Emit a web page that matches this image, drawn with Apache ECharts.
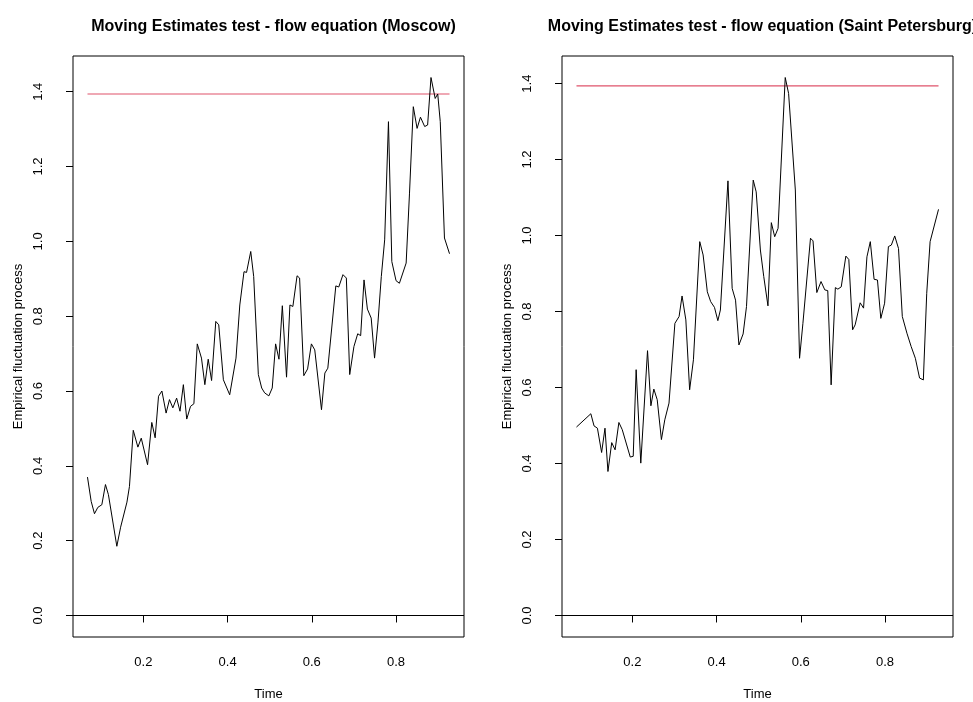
<!DOCTYPE html>
<html>
<head>
<meta charset="utf-8">
<title>Moving Estimates test - flow equation</title>
<script src="https://cdn.jsdelivr.net/npm/echarts@6/dist/echarts.min.js"></script>
<style>
  html, body { margin: 0; padding: 0; background: #ffffff; }
  #chart { width: 973px; height: 702px; }
</style>
</head>
<body>
<div id="chart"></div>
<script>
// Moscow: empirical fluctuation process of the moving estimates
const moscowTime = [
  0.0673, 0.0761, 0.0839, 0.0919, 0.1014, 0.110, 0.117, 0.137, 0.146, 0.161,
  0.167, 0.176, 0.187, 0.195, 0.210, 0.220, 0.228, 0.236, 0.244, 0.254,
  0.262, 0.270, 0.279, 0.287, 0.295, 0.303, 0.312, 0.320, 0.328, 0.338,
  0.346, 0.354, 0.362, 0.372, 0.379, 0.390, 0.405, 0.420, 0.429, 0.439,
  0.445, 0.455, 0.462, 0.473, 0.481, 0.488, 0.498, 0.506, 0.514, 0.522,
  0.530, 0.540, 0.548, 0.555, 0.565, 0.571, 0.581, 0.590, 0.599, 0.607,
  0.623, 0.631, 0.638, 0.657, 0.664, 0.674, 0.682, 0.690, 0.700, 0.709,
  0.716, 0.724, 0.732, 0.741, 0.749, 0.757, 0.765, 0.773, 0.782, 0.790,
  0.800, 0.808, 0.824, 0.832, 0.841, 0.850, 0.858, 0.868, 0.875, 0.883,
  0.893, 0.899, 0.905, 0.915, 0.927
];
const moscowValues = [
  0.370, 0.305, 0.272, 0.289, 0.296, 0.350, 0.323, 0.185, 0.236, 0.303,
  0.345, 0.495, 0.450, 0.474, 0.403, 0.516, 0.475, 0.586, 0.600, 0.541,
  0.577, 0.555, 0.581, 0.546, 0.617, 0.525, 0.559, 0.566, 0.726, 0.688,
  0.617, 0.685, 0.628, 0.786, 0.777, 0.630, 0.590, 0.688, 0.830, 0.919,
  0.917, 0.973, 0.906, 0.644, 0.608, 0.595, 0.587, 0.608, 0.726, 0.685,
  0.828, 0.637, 0.830, 0.826, 0.908, 0.902, 0.641, 0.659, 0.726, 0.710,
  0.550, 0.648, 0.661, 0.881, 0.878, 0.911, 0.902, 0.644, 0.719, 0.753,
  0.748, 0.897, 0.819, 0.795, 0.688, 0.782, 0.906, 1.004, 1.320, 0.946,
  0.895, 0.888, 0.942, 1.129, 1.360, 1.302, 1.332, 1.307, 1.311, 1.438,
  1.382, 1.394, 1.320, 1.009, 0.967
];

// Saint Petersburg: empirical fluctuation process of the moving estimates
const spbTime = [
  0.0673, 0.1014, 0.109, 0.117, 0.127, 0.135, 0.142, 0.151, 0.159, 0.168,
  0.176, 0.195, 0.202, 0.209, 0.220, 0.236, 0.244, 0.251, 0.259, 0.269,
  0.277, 0.287, 0.301, 0.311, 0.318, 0.327, 0.336, 0.345, 0.360, 0.368,
  0.378, 0.386, 0.395, 0.403, 0.409, 0.427, 0.437, 0.445, 0.453, 0.463,
  0.471, 0.487, 0.494, 0.504, 0.512, 0.522, 0.530, 0.538, 0.546, 0.563,
  0.571, 0.587, 0.597, 0.605, 0.623, 0.629, 0.638, 0.648, 0.657, 0.664,
  0.672, 0.682, 0.688, 0.696, 0.707, 0.714, 0.723, 0.729, 0.741, 0.749,
  0.757, 0.765, 0.774, 0.782, 0.790, 0.799, 0.808, 0.815, 0.823, 0.832,
  0.841, 0.852, 0.862, 0.872, 0.882, 0.891, 0.899, 0.907, 0.927
];
const spbValues = [
  0.496, 0.531, 0.499, 0.493, 0.429, 0.493, 0.379, 0.455, 0.436, 0.508,
  0.489, 0.417, 0.419, 0.647, 0.401, 0.697, 0.552, 0.596, 0.568, 0.463,
  0.515, 0.559, 0.769, 0.787, 0.841, 0.778, 0.594, 0.673, 0.984, 0.949,
  0.852, 0.826, 0.811, 0.776, 0.804, 1.144, 0.861, 0.830, 0.712, 0.741,
  0.813, 1.146, 1.115, 0.962, 0.892, 0.815, 1.034, 0.997, 1.019, 1.416,
  1.374, 1.120, 0.677, 0.769, 0.993, 0.986, 0.850, 0.879, 0.857, 0.855,
  0.607, 0.863, 0.859, 0.865, 0.946, 0.937, 0.752, 0.765, 0.823, 0.809,
  0.944, 0.984, 0.885, 0.883, 0.782, 0.822, 0.971, 0.975, 0.999, 0.966,
  0.787, 0.743, 0.708, 0.677, 0.625, 0.620, 0.848, 0.984, 1.069
];

// 5% critical boundary of the sup-norm functional
const boundary = [1.394, 1.394];

const titles = [
  'Moving Estimates test - flow equation (Moscow)',
  'Moving Estimates test - flow equation (Saint Petersburg)'
];
const yTicks = [0.0, 0.2, 0.4, 0.6, 0.8, 1.0, 1.2, 1.4];
const xTicks = [0.2, 0.4, 0.6, 0.8];
const xTitle = 'Time';
const yTitle = 'Empirical fluctuation process';

const FONT = '"Liberation Sans", Arial, Helvetica, sans-serif';
const BOUNDARY_RED = '#DF536B';

// R-style axis limits: data range padded by 4% on each side
function rRange(lo, hi) {
  const pad = 0.04 * (hi - lo);
  return [lo - pad, hi + pad];
}

const panels = [
  { t: moscowTime, v: moscowValues, left: 73 },
  { t: spbTime, v: spbValues, left: 562 }
];

const grids = [], xAxes = [], yAxes = [], series = [], titleCfg = [];

panels.forEach((p, i) => {
  const xr = rRange(Math.min(...p.t), Math.max(...p.t));
  const yr = rRange(Math.min(0, ...p.v), Math.max(boundary[0], ...p.v));
  grids.push({
    left: p.left, top: 56, width: 391, height: 581,
    containLabel: false, outerBoundsMode: 'none',
    show: true, borderColor: '#000', borderWidth: 1, backgroundColor: 'transparent'
  });
  titleCfg.push({
    text: titles[i],
    left: p.left + 195.5,
    top: 14,
    textAlign: 'center',
    textStyle: { fontFamily: FONT, fontSize: 16, fontWeight: 'bold', color: '#000' }
  });
  xAxes.push({
    type: 'value', gridIndex: i, min: xr[0], max: xr[1],
    name: xTitle, nameLocation: 'middle', nameGap: 51,
    nameTextStyle: { fontFamily: FONT, fontSize: 13, color: '#000' },
    axisLine: { show: false },
    splitLine: { show: false },
    axisTick: { show: true, length: 7, customValues: xTicks, lineStyle: { color: '#000' } },
    axisLabel: {
      show: true, customValues: xTicks, margin: 19,
      fontFamily: FONT, fontSize: 13, color: '#000',
      formatter: v => v.toFixed(1)
    }
  });
  yAxes.push({
    type: 'value', gridIndex: i, min: yr[0], max: yr[1],
    name: yTitle, nameLocation: 'middle', nameGap: 48, nameRotate: 90,
    nameTextStyle: { fontFamily: FONT, fontSize: 13, color: '#000' },
    axisLine: { show: false },
    splitLine: { show: false },
    axisTick: { show: true, length: 7, customValues: yTicks, lineStyle: { color: '#000' } },
    axisLabel: {
      show: true, customValues: yTicks, rotate: 90, margin: 28,
      fontFamily: FONT, fontSize: 13, color: '#000',
      formatter: v => v.toFixed(1)
    }
  });
  series.push({
    type: 'line', xAxisIndex: i, yAxisIndex: i,
    data: p.t.map((t, k) => [t, p.v[k]]),
    showSymbol: false, symbol: 'none', silent: true,
    color: '#000',
    lineStyle: { color: '#000', width: 1 },
    markLine: {
      silent: true, symbol: 'none', label: { show: false },
      lineStyle: { color: '#000', width: 1, type: 'solid' },
      data: [{ yAxis: 0 }]
    },
    z: 3
  });
  series.push({
    type: 'line', xAxisIndex: i, yAxisIndex: i,
    data: [[p.t[0], boundary[0]], [p.t[p.t.length - 1], boundary[1]]],
    showSymbol: false, symbol: 'none', silent: true,
    color: BOUNDARY_RED,
    itemStyle: { color: BOUNDARY_RED },
    lineStyle: { color: BOUNDARY_RED, width: 1.2, opacity: 1 },
    z: 2
  });
});

const chart = echarts.init(document.getElementById('chart'), null, { renderer: 'canvas' });
chart.setOption({
  backgroundColor: '#ffffff',
  animation: false,
  title: titleCfg,
  grid: grids,
  xAxis: xAxes,
  yAxis: yAxes,
  series: series
});
</script>
</body>
</html>
